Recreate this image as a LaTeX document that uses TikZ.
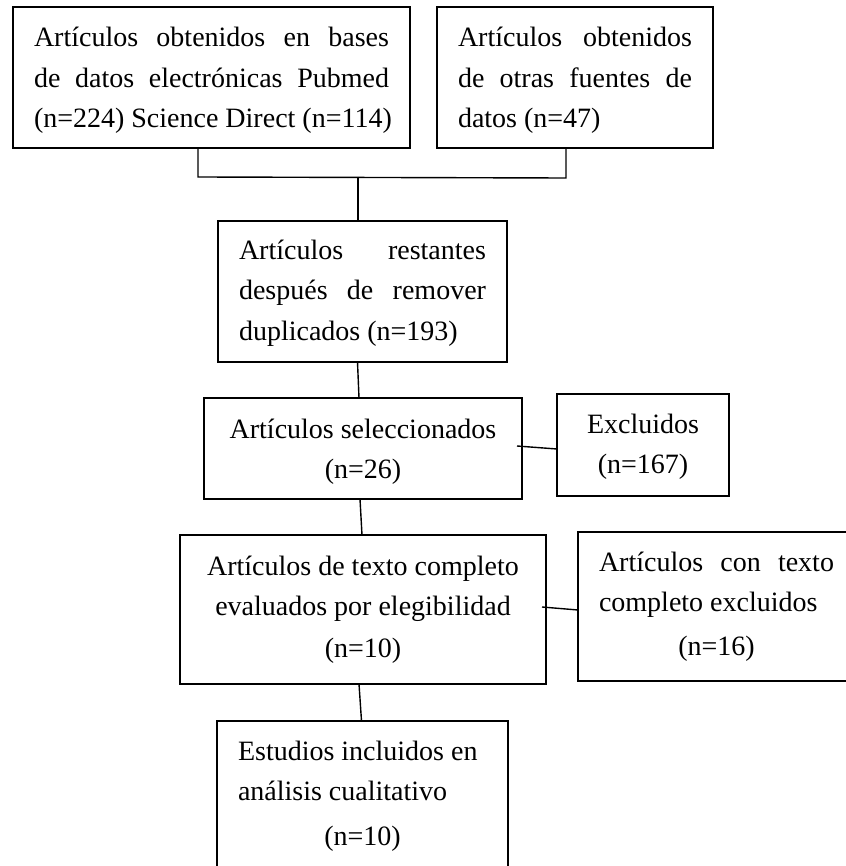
\documentclass[tikz,border=0pt]{standalone}
\usepackage{fontspec}
\setmainfont{Liberation Serif}
\usetikzlibrary{calc}

% One text line per call: centred, left-aligned or justified (spread) within the box padding
\newcommand\flowstrut{\vrule height 22pt depth 9pt width 0pt}
\newdimen\flowpad \flowpad=21pt
\newcommand\LineC[1]{\hbox to \hsize{\flowstrut\hss #1\hss}}
\newcommand\LineL[1]{\hbox to \hsize{\hskip\flowpad\flowstrut #1\hss}}
\newcommand\LineJ[1]{\hbox to \hsize{\hskip\flowpad\flowstrut\makebox[\dimexpr\hsize-2\flowpad\relax][s]{#1}\hss}}
\newcommand\Gap[1]{\kern#1\relax}
% Box body: width, height, first baseline from top, lines
\newcommand\flowtext[4]{\vbox to #2{\hsize=#1\relax\baselineskip=40.5pt\lineskiplimit=-100pt\lineskip=0pt\kern\dimexpr#3-22pt\relax #4\vss}}

\tikzset{
  flowbox/.style={draw, line width=1.8pt, inner sep=0pt, outer sep=0pt, anchor=north west,
    font=\fontsize{28}{40.5}\selectfont},
  link/.style={line width=1.4pt}
}

\begin{document}
\begin{tikzpicture}[x=1pt, y=-1pt]
\useasboundingbox (0,0) rectangle (845,866);

\node[flowbox] (b1) at (13,7) {\flowtext{397pt}{141pt}{40pt}{%
  \LineJ{Artículos obtenidos en bases}%
  \LineJ{de datos electrónicas Pubmed}%
  \LineL{(n=224) Science Direct (n=114)}}};

\node[flowbox] (b2) at (437,7) {\flowtext{276pt}{141pt}{40pt}{%
  \LineJ{Artículos obtenidos}%
  \LineJ{de otras fuentes de}%
  \LineL{datos (n=47)}}};

\node[flowbox] (b3) at (218,221) {\flowtext{289pt}{141pt}{38pt}{%
  \LineJ{Artículos restantes}%
  \LineJ{después de remover}%
  \LineL{duplicados (n=193)}}};

\node[flowbox] (b4) at (204,398) {\flowtext{318pt}{101pt}{40pt}{%
  \LineC{Artículos seleccionados}%
  \LineC{(n=26)}}};

\node[flowbox] (ex) at (557,394) {\flowtext{172pt}{102pt}{39pt}{%
  \LineC{Excluidos}%
  \LineC{(n=167)}}};

\node[flowbox] (b5) at (180,535) {\flowtext{366pt}{149pt}{40pt}{%
  \LineC{Artículos de texto completo}%
  \LineC{evaluados por elegibilidad}%
  \Gap{1.5pt}\LineC{(n=10)}}};

\node[flowbox] (rb) at (578,532) {\flowtext{277pt}{149pt}{39pt}{%
  \LineJ{Artículos con texto}%
  \LineL{completo excluidos}%
  \Gap{3pt}\LineC{(n=16)}}};

% last box runs past the lower edge of the page
\node[flowbox] (b6) at (217,721) {\flowtext{291pt}{160pt}{39pt}{%
  \LineL{Estudios incluidos en}%
  \LineL{análisis cualitativo}%
  \Gap{4.5pt}\LineC{(n=10)}}};

% joining bracket under the two source boxes
\coordinate (jl) at (198,177);
\coordinate (jm) at (358,177);
\coordinate (jr) at (566,178);
\draw[link] (b1.south -| jl) -- (jl) -- (jr) -- (b2.south -| jr);
\draw[link] (jm) -- (b3.north -| jm);

% main flow and side exclusions
\draw[link] ([xshift=-5pt]b3.south) -- ([xshift=-4pt]b4.north);
\draw[link] ([xshift=-5pt,yshift=2.5pt]b4.east) -- ([yshift=-4pt]ex.west);
\draw[link] ([xshift=-3pt]b4.south) -- ([xshift=-1pt]b5.north);
\draw[link] ([xshift=-4pt,yshift=2.5pt]b5.east) -- ([yshift=-3.5pt]rb.west);
\draw[link] ([xshift=-4pt]b5.south) -- ([xshift=-1pt]b6.north);
\end{tikzpicture}
\end{document}
